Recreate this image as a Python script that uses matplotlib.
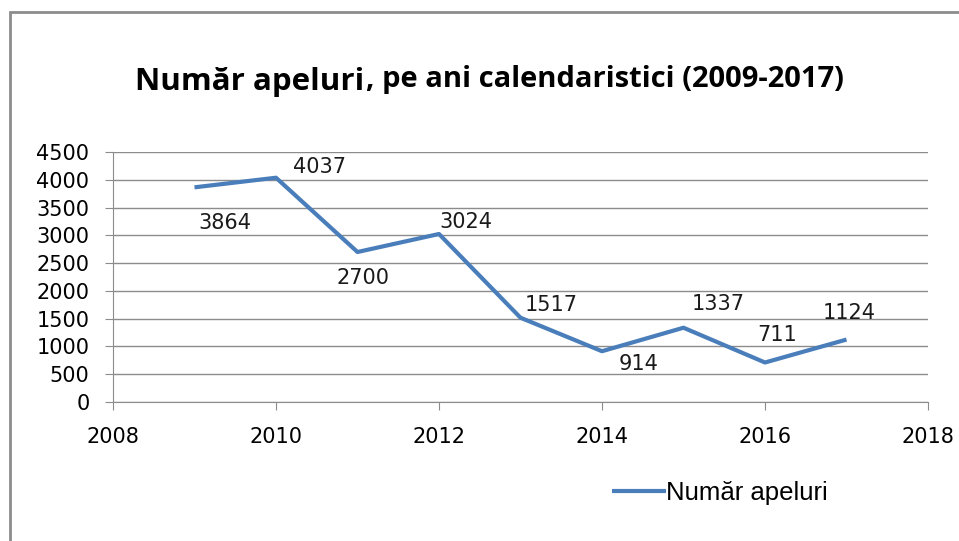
import matplotlib.pyplot as plt
from matplotlib.patches import Rectangle

years = [2009, 2010, 2011, 2012, 2013, 2014, 2015, 2016, 2017]
calls = [3864, 4037, 2700, 3024, 1517, 914, 1337, 711, 1124]
# label offsets in points (dx, dy) relative to each point
label_offsets = [(22, -26), (31, 8), (4, -19), (19, 9), (22, 9), (26, -9), (25, 17), (9, 20), (2, 19)]

plt.rcParams['font.family'] = ['DejaVu Sans']

fig = plt.figure(figsize=(9.59, 5.41), dpi=100)
ax = fig.add_axes([113 / 959, 1 - 402 / 541, (928 - 113) / 959, 250 / 541])

# outer chart frame
fig.patches.append(Rectangle((10 / 959, -0.05), 1.1, 1 - 12 / 541 + 0.05,
                             transform=fig.transFigure, fill=False,
                             edgecolor='#8c8c8c', linewidth=2))

ax.plot(years, calls, color='#4a7ebb', linewidth=3, label='Număr apeluri',
        solid_capstyle='butt')

for x, y, (dx, dy) in zip(years, calls, label_offsets):
    ax.annotate(str(y), (x, y), xytext=(dx, dy), textcoords='offset points',
                ha='center', va='center', fontsize=15, color='#1a1a1a')

ax.set_xlim(2008, 2018)
ax.set_ylim(0, 4500)
ax.set_xticks(range(2008, 2019, 2))
ax.set_yticks(range(0, 4501, 500))
ax.grid(axis='y', color='#8c8c8c', linewidth=1)
ax.set_axisbelow(True)
for s in ['top', 'right']:
    ax.spines[s].set_visible(False)
ax.spines['left'].set_color('#8c8c8c')
ax.spines['bottom'].set_color('#8c8c8c')
ax.tick_params(axis='y', length=6, color='#8c8c8c', pad=11, labelsize=15)
ax.tick_params(axis='x', length=6, color='#8c8c8c', pad=12, labelsize=15)

t1 = fig.text(135 / 959, 1 - 82 / 541, 'Număr apeluri', fontsize=22.5,
              fontweight='bold', va='center', ha='left', family='Open Sans')
fig.canvas.draw()
ax.annotate(', pe ani calendaristici (2009-2017)', xy=(1, 0), xycoords=t1,
            xytext=(1, 2), textcoords='offset points', va='bottom',
            fontsize=21, fontweight='bold', family='Open Sans',
            annotation_clip=False)

fig.legend(loc='center left', bbox_to_anchor=(612 / 959, 1 - 493 / 541),
           frameon=False, prop={'family': 'Liberation Sans', 'size': 18.5},
           handlelength=2.1, handletextpad=0.0, borderpad=0, borderaxespad=0)

fig.savefig('out.png', dpi=100)
